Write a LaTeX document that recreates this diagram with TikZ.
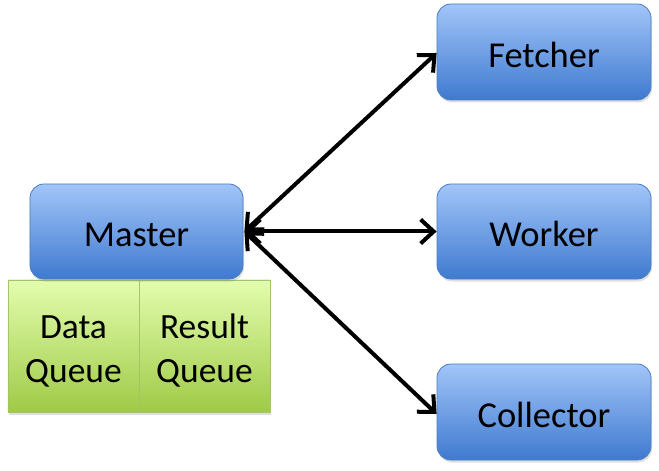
\documentclass[tikz,border=0pt]{standalone}
\usepackage{fontspec}
\setmainfont{Carlito}
\usetikzlibrary{arrows.meta,shadows}
\definecolor{btop}{HTML}{A2C5F9}
\definecolor{bbot}{HTML}{3F7AD0}
\definecolor{bline}{HTML}{4A7EBB}
\definecolor{gtop}{HTML}{E3FDAE}
\definecolor{gbot}{HTML}{9FCA47}
\definecolor{gline}{HTML}{A5C46A}
\tikzset{
  bluebox/.style={draw=bline, line width=0.8bp, rounded corners=14bp,
    top color=btop, bottom color=bbot, minimum width=214bp, minimum height=96bp,
    inner sep=0pt, font=\fontsize{36.5bp}{36.5bp}\selectfont,
    text height=31bp, text depth=0bp,
    drop shadow={opacity=0.25, shadow xshift=1bp, shadow yshift=-2.5bp}},
  greenbox/.style={draw=gline, line width=0.8bp,
    top color=gtop, bottom color=gbot, minimum width=131bp, minimum height=132bp,
    inner sep=0pt,
    drop shadow={opacity=0.25, shadow xshift=1bp, shadow yshift=-2.5bp}},
  greentext/.style={inner sep=0pt, align=center, font=\fontsize{35.5bp}{44bp}\selectfont},
  link/.style={line width=4bp, {Straight Barb[length=13bp,width=24bp]}-{Straight Barb[length=13bp,width=24bp]}},
}
\begin{document}
\begin{tikzpicture}[x=1bp,y=-1bp]
\useasboundingbox (0,0) rectangle (659,471);
\node[bluebox] (fetcher) at (544,52) {Fetcher};
\node[bluebox, minimum height=95bp] (worker) at (544,231.5) {Worker};
\node[bluebox] (collector) at (544,412) {Collector};
\node[greenbox] (data) at (73.5,346) {};
\node[greenbox] (result) at (204.5,346) {};
\node[greentext] (datat) at ([yshift=-5bp]data.center) {Data\\Queue};
\node[greentext] (resultt) at ([yshift=-5bp]result.center) {Result\\Queue};
\node[bluebox, minimum width=213bp, minimum height=95bp] (master) at (136.5,231.5) {Master};
\coordinate (m) at ([xshift=1bp]master.east);
\draw[link] (m) -- ([yshift=-1bp]fetcher.west);
\draw[link] (m) -- (worker.west);
\draw[link] (m) -- ([yshift=-2bp]collector.west);
\end{tikzpicture}
\end{document}
